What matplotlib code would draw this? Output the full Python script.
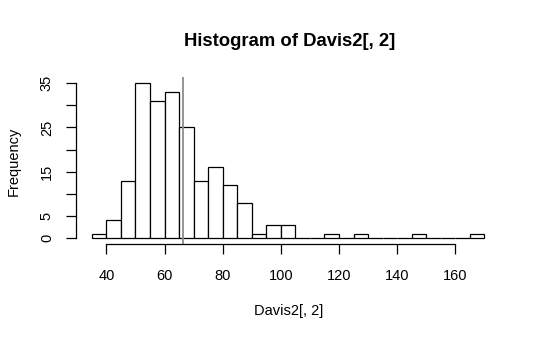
import matplotlib
matplotlib.use("Agg")
import matplotlib.pyplot as plt
import numpy as np

plt.rcParams['font.family'] = ['Liberation Sans', 'DejaVu Sans']

bin_edges = list(range(35, 175, 5))
counts = [1, 4, 13, 35, 31, 33, 25, 13, 16, 12, 8, 1, 3, 3, 0, 0, 1, 0, 1, 0, 0, 0, 1, 0, 0, 0, 1]
mean_value = 66.4
x_ticks = [40, 60, 80, 100, 120, 140, 160]
y_ticks = [0, 5, 10, 15, 20, 25, 30, 35]
y_labels = ['0', '5', '', '15', '', '25', '', '35']

fig = plt.figure(figsize=(5.4, 3.41), dpi=100)
ax = fig.add_axes([0.141, 0.284, 0.785, 0.490])

lefts = bin_edges[:-1]
ax.bar(lefts, counts, width=5, align='edge', color='white', edgecolor='black', linewidth=0.9)
ax.axvline(mean_value, color='#8c8c8c', linewidth=1.3)

xmin, xmax = bin_edges[0], bin_edges[-1]
pad = (xmax - xmin) * 0.04
ax.set_xlim(xmin - pad, xmax + pad)
ax.set_ylim(-35 * 0.04, 35 * 1.04)

for s in ['top', 'right']:
    ax.spines[s].set_visible(False)
ax.spines['bottom'].set_bounds(40, 160)
ax.spines['left'].set_bounds(0, 35)
ax.spines['bottom'].set_linewidth(0.9)
ax.spines['left'].set_linewidth(0.9)

ax.set_xticks(x_ticks)
ax.set_xticklabels([str(t) for t in x_ticks])
ax.set_yticks(y_ticks)
ax.set_yticklabels(y_labels, rotation=90, va='center')
ax.tick_params(axis='both', length=7, width=0.9, labelsize=10.5, direction='out', colors='black')
ax.tick_params(axis='x', pad=11)
ax.tick_params(axis='y', pad=9)

fig.text(289 / 540, 1 - 311 / 341, 'Davis2[, 2]', ha='center', va='center', fontsize=10.5)
fig.text(14 / 540, 1 - 161 / 341, 'Frequency', ha='center', va='center', rotation=90, fontsize=10.5)
fig.text(0.536, 1 - 42 / 341, 'Histogram of Davis2[, 2]', ha='center', va='center', fontsize=13.3, fontweight='bold')

fig.savefig('out.png', dpi=100)
